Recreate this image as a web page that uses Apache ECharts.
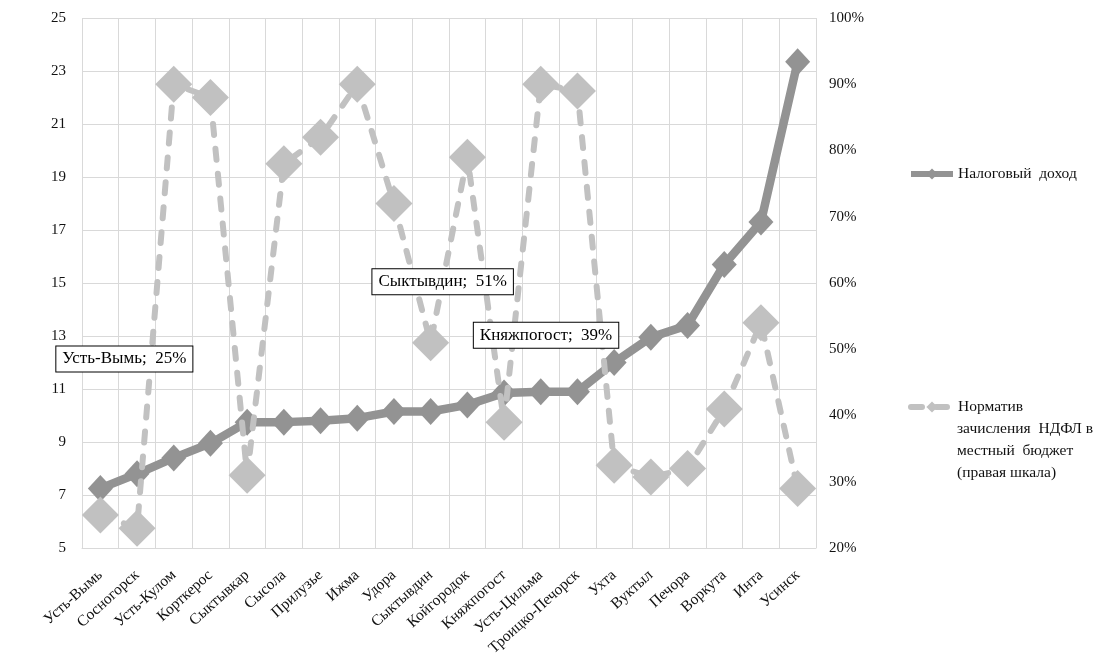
<!DOCTYPE html>
<html>
<head>
<meta charset="utf-8">
<script src="https://cdn.jsdelivr.net/npm/echarts@6/dist/echarts.min.js"></script>
<style>
  html, body { margin: 0; padding: 0; background: #fff; }
  #chart { width: 1113px; height: 668px; }
</style>
</head>
<body>
<div id="chart"></div>
<script>
// Districts of the Komi Republic, ordered by tax income
const districts = [
  'Усть-Вымь', 'Сосногорск', 'Усть-Кулом', 'Корткерос', 'Сыктывкар',
  'Сысола', 'Прилузье', 'Ижма', 'Удора', 'Сыктывдин',
  'Койгородок', 'Княжпогост', 'Усть-Цильма', 'Троицко-Печорск', 'Ухта',
  'Вуктыл', 'Печора', 'Воркута', 'Инта', 'Усинск'
];

// Tax income (left scale)
const taxIncome = [
  7.25, 7.8, 8.4, 8.95, 9.75,
  9.75, 9.8, 9.9, 10.15, 10.15,
  10.4, 10.85, 10.9, 10.9, 12.0,
  12.95, 13.4, 15.7, 17.3, 23.35
];

// Share of personal income tax credited to the local budget, % (right scale)
const ndflShare = [
  25, 23, 90, 88, 31,
  78, 82, 90, 72, 51,
  79, 39, 90, 89, 32.5,
  30.7, 32, 41, 54, 29
];

// Points that carry a value label
const labelledDistricts = ['Усть-Вымь', 'Сыктывдин', 'Княжпогост'];

// Tick labels
const leftTicks = [5, 7, 9, 11, 13, 15, 17, 19, 21, 23, 25];
const rightTicks = [20, 30, 40, 50, 60, 70, 80, 90, 100];

// Legend entries
const incomeName = 'Налоговый доход';
const shareNameLines = ['Норматив', 'зачисления  НДФЛ в', 'местный  бюджет', '(правая шкала)'];
const shareName = shareNameLines.join('\n');

const serif = 'Liberation Serif';
const textColor = '#111';
const legendFont = 15.5;

// Where each value label box sits relative to its point
const labelOffsets = {
  'Усть-Вымь': [24, -156],
  'Сыктывдин': [12, -61],
  'Княжпогост': [42, -87]
};

const shareData = ndflShare.map((v, i) => {
  const name = districts[i];
  if (labelledDistricts.indexOf(name) >= 0) {
    return {
      value: v,
      label: { show: true, position: 'inside', offset: labelOffsets[name] }
    };
  }
  return v;
});

const chart = echarts.init(document.getElementById('chart'), null, { renderer: 'canvas' });

chart.setOption({
  backgroundColor: '#ffffff',
  animation: false,
  grid: { left: 82, right: 297, top: 18, bottom: 120, containLabel: false },
  legend: [
    {
      orient: 'vertical',
      left: 903,
      top: 161,
      itemWidth: 42,
      itemHeight: 14,
      data: [incomeName],
      lineStyle: { width: 6 },
      formatter: name => name.replace(' ', '  '),
      textStyle: { fontFamily: serif, fontSize: legendFont, color: textColor }
    },
    {
      orient: 'vertical',
      left: 903,
      top: 394,
      itemWidth: 42,
      itemHeight: 14,
      data: [shareName],
      lineStyle: { width: 6 },
      formatter: name => name.split('\n')[0],
      textStyle: { fontFamily: serif, fontSize: legendFont, color: textColor }
    }
  ],
  // remaining lines of the second legend entry
  graphic: [
    {
      type: 'text',
      left: 957,
      top: 418,
      style: {
        text: shareNameLines.slice(1).join('\n'),
        fontFamily: serif,
        fontSize: legendFont,
        lineHeight: 22,
        fill: textColor
      }
    }
  ],
  xAxis: {
    type: 'category',
    data: districts,
    boundaryGap: true,
    axisLine: { show: true, lineStyle: { color: '#d9d9d9', width: 1 } },
    axisTick: { show: false },
    splitLine: { show: true, interval: 0, lineStyle: { color: '#d9d9d9', width: 1 } },
    axisLabel: {
      interval: 0,
      rotate: 42,
      margin: 25,
      fontFamily: serif,
      fontSize: 15.5,
      color: textColor
    }
  },
  yAxis: [
    {
      type: 'value',
      min: 5,
      max: 25,
      axisLine: { show: false },
      axisTick: { show: false, customValues: leftTicks },
      splitLine: { show: true, lineStyle: { color: '#d9d9d9', width: 1 } },
      axisLabel: {
        customValues: leftTicks,
        margin: 16,
        fontFamily: serif,
        fontSize: 15,
        color: textColor
      }
    },
    {
      type: 'value',
      min: rightTicks[0],
      max: rightTicks[rightTicks.length - 1],
      interval: 10,
      position: 'right',
      axisLine: { show: false },
      axisTick: { show: false },
      splitLine: { show: false },
      axisLabel: {
        formatter: '{value}%',
        margin: 13,
        fontFamily: serif,
        fontSize: 15,
        color: textColor
      }
    }
  ],
  series: [
    {
      name: incomeName,
      type: 'line',
      yAxisIndex: 0,
      data: taxIncome,
      symbol: 'diamond',
      symbolSize: [25, 27],
      lineStyle: { color: '#939393', width: 8.5 },
      itemStyle: { color: '#939393' },
      z: 2
    },
    {
      name: shareName,
      type: 'line',
      yAxisIndex: 1,
      data: shareData,
      symbol: 'diamond',
      symbolSize: [37, 37],
      lineStyle: { color: '#c1c1c1', width: 6, type: [11, 14], cap: 'round' },
      itemStyle: { color: '#c1c1c1' },
      label: {
        show: false,
        formatter: p => p.name + ';  ' + p.value + '%',
        fontFamily: serif,
        fontSize: 17,
        color: '#000',
        backgroundColor: '#ffffff',
        borderColor: '#000000',
        borderWidth: 1,
        padding: [5, 6, 3, 6]
      },
      z: 3
    }
  ]
});
</script>
</body>
</html>
